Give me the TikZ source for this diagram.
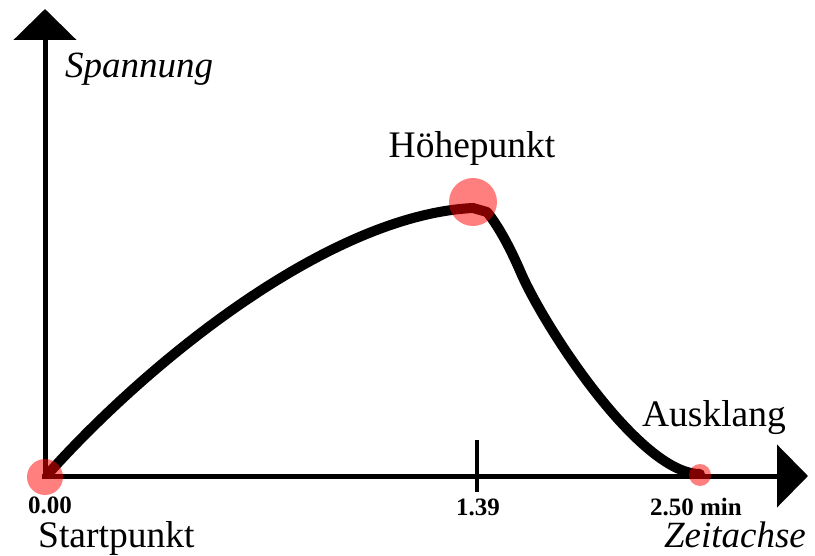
\documentclass[tikz,border=0pt]{standalone}
\usepackage{fontspec}
\setmainfont{Liberation Serif}
\usetikzlibrary{arrows.meta}

\begin{document}
\begin{tikzpicture}[
  x=1pt, y=-1pt,
  axis/.style={line width=5pt, -{Triangle[length=31pt, width=62pt]}},
  curve/.style={line width=10pt, line join=round, line cap=round},
  dot/.style={circle, fill=red, opacity=0.5, inner sep=0pt},
  lbl/.style={font=\fontsize{37.5}{40}\selectfont, inner sep=0pt},
  ital/.style={font=\fontsize{37}{40}\selectfont\itshape, inner sep=0pt},
  num/.style={font=\fontsize{25}{28}\selectfont\bfseries, inner sep=0pt}
]
\useasboundingbox (0,0) rectangle (815,556);
% axes
\coordinate (ybase) at (45,479);
\coordinate (ytip) at (45,9);
\coordinate (xbase) at (42,476);
\coordinate (xtip) at (808,476);
\draw[axis] (ybase) -- (ytip);
\draw[axis] (xbase) -- (xtip);
% tension curve
\coordinate (start) at (48,474);
\coordinate (peak) at (473,208);
\coordinate (turn) at (487,212);
\coordinate (drop) at (521,273);
\coordinate (end) at (700,474);
\draw[curve] (start) .. controls (150,360) and (330,215) .. (peak) -- (turn)
  .. controls (500,228) and (512,252) .. (drop)
  .. controls (545,328) and (640,474) .. (end);
% tick at 1.39
\coordinate (tick) at (477,440);
\draw[line width=3.5pt] (tick) -- ++(0,52);
% markers
\node[dot, minimum size=36pt] (startdot) at (45,477) {};
\node[dot, minimum size=48pt] (peakdot) at (473,202) {};
\node[dot, minimum size=22pt] (enddot) at (700,475) {};
% labels
\node[ital, anchor=base west] (spannung) at (65,78) {Spannung};
\node[lbl, anchor=base] (hoehe) at (472,158) {Höhepunkt};
\node[lbl, anchor=base] (ausklang) at (714,427) {Ausklang};
\node[num, anchor=base] (n0) at (50,513) {0.00};
\node[num, anchor=base] (n1) at (478,515) {1.39};
\node[num, anchor=base] (n2) at (696,515) {2.50 min};
\node[lbl, anchor=base west] (startpunkt) at (38,547) {Startpunkt};
\node[ital, anchor=base east] (zeit) at (806,547) {Zeitachse};
\end{tikzpicture}
\end{document}
